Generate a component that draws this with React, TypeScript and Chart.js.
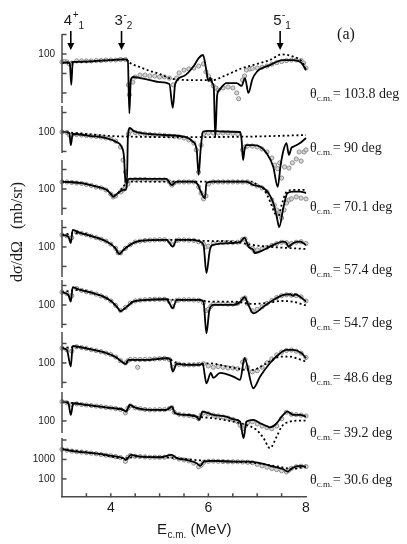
import React, { useEffect, useRef } from "react";
import { Chart, registerables } from "chart.js";

Chart.register(...registerables);

type P = [number, number][];

// ---------- categories / labels ----------
const ANGLES = ["103.8", "90", "70.1", "57.4", "54.7", "48.6", "39.2", "30.6"];
const X_TICK_LABELS = [4, 6, 8];
const X_MINOR_TICKS = [3.5, 4, 4.5, 5, 5.5, 6, 6.5, 7, 7.5];
const LEVELS = [
  { e: 3.18, j: "4", p: "+", n: "1" },
  { e: 4.22, j: "3", p: "-", n: "2" },
  { e: 7.47, j: "5", p: "-", n: "1" },
];

// ---------- per-panel log axes (mb/sr) ----------
const PANEL_LOG_MAX = [3.233, 7.239, 10.166, 13.145, 16.124, 19.103, 22.082, 25.061];
const PANEL_DECADES = 24;
const AXIS_TOP = [1060, 2170, 3090, 2440, 1930, 3920, 3090, 12800];
const AXIS_BOTTOM: (number | null)[] = [0.3, 8.3, 4.6, 2.9, 6.6, 5.2, 24, null];
const AXIS_TICKS = [
  [1000, 100, 10, 1], [1000, 100, 10], [1000, 100, 10], [1000, 100, 10],
  [1000, 100, 10], [1000, 100, 10], [1000, 100], [10000, 1000, 100],
];
const AXIS_LABELS = [[100], [100], [100], [100], [100], [100], [100], [1000, 100]];
const LABEL_OFFSETS = [40, 16, 18, 23, 18, 15, 12, 1];

// ---------- theta = 103.8 deg ----------
const FIT_103: P = [[3.00,35.5],[3.10,36.5],[3.16,33],[3.19,2.6],[3.22,38.8],[3.50,41],[4.00,49],[4.30,53],[4.35,45],[4.38,0.09],[4.41,4.6],[4.46,6.6],[4.60,5.8],[4.80,4.6],[5.00,3.6],[5.20,2.9],[5.27,0.17],[5.32,2.9],[5.50,7.4],[5.70,24],[5.80,62],[5.89,89],[5.95,19],[6.00,4.0],[6.04,6.0],[6.08,3.2],[6.11,2.0],[6.14,0.0055],[6.18,0.8],[6.22,1.4],[6.37,3.2],[6.58,3.2],[6.68,2.3],[6.75,5.8],[6.82,1.0],[6.90,5.0],[6.99,11.9],[7.26,27],[7.53,49],[7.74,49],[7.91,34],[8.00,15]];
const CALC_103: P = [[3.00,35.5],[3.50,41],[4.00,49],[4.30,53],[4.40,34],[4.60,21],[4.80,13.4],[5.00,9.4],[5.20,5.8],[5.60,4.6],[6.10,4.6],[6.30,7.0],[6.44,10],[6.70,19],[6.91,27],[7.26,49],[7.50,95],[7.74,73],[7.94,34],[8.00,15]];
const EXP_103: P = [[3.00,39],[3.05,41],[3.10,39],[3.15,31],[3.20,34],[3.30,44],[3.40,44],[3.50,44],[3.60,44],[3.70,46],[3.80,46],[3.90,49],[4.00,49],[4.10,49],[4.20,52],[4.30,52],[4.36,2.6],[4.38,0.8],[4.45,3.6],[4.50,6.6],[4.60,8.3],[4.70,8.3],[4.80,7.4],[4.90,7.4],[5.00,6.6],[5.10,6.6],[5.20,5.8],[5.28,2.6],[5.35,5.8],[5.40,10.6],[5.50,15],[5.60,17],[5.70,19],[5.80,24],[5.90,31],[5.95,12],[6.00,7.4],[6.05,4.6],[6.10,2.3],[6.15,1.8],[6.20,1.4],[6.30,1.8],[6.40,2.0],[6.50,1.8],[6.58,1.0],[6.62,0.5],[6.70,4.6],[6.74,7.4],[6.78,15],[6.85,17],[6.90,18],[7.00,19],[7.10,21],[7.20,24],[7.30,30],[7.40,36],[7.50,41],[7.60,46],[7.70,49],[7.80,49],[7.90,46],[7.95,34],[8.00,19]];

// ---------- theta = 90 deg ----------
const FIT_90: P = [[3.00,104],[3.15,89],[3.18,21],[3.22,79],[3.60,62],[3.90,49],[4.10,32],[4.22,17.5],[4.27,5.4],[4.30,0.3],[4.33,0.24],[4.35,50],[4.39,160],[4.47,113],[4.60,89],[5.10,70],[5.50,57],[5.68,32],[5.76,12],[5.80,0.62],[5.84,12],[5.89,104],[6.00,113],[6.30,106],[6.65,100],[6.68,39],[6.71,3.6],[6.74,12],[6.78,21],[6.92,21],[7.06,17.5],[7.19,8.3],[7.33,1.6],[7.42,0.15],[7.48,2.0],[7.54,12],[7.60,27],[7.65,6.6],[7.70,15],[7.74,17.5],[7.88,27],[8.00,49]];
const CALC_90: P = [[3.00,100],[3.50,79],[4.00,62],[4.50,57],[5.00,55],[6.00,55],[7.00,59],[8.00,70]];
const EXP_90: P = [[3.00,100],[3.10,94],[3.15,70],[3.20,70],[3.30,74],[3.40,70],[3.50,66],[3.60,62],[3.70,59],[3.80,55],[3.90,49],[4.00,44],[4.10,34],[4.20,17],[4.25,3.6],[4.30,0.88],[4.32,0.27],[4.36,79],[4.40,113],[4.50,94],[4.60,84],[4.70,79],[4.80,74],[4.90,70],[5.00,70],[5.10,66],[5.20,62],[5.30,59],[5.40,55],[5.50,49],[5.60,39],[5.70,27],[5.75,12],[5.80,0.88],[5.85,21],[5.90,79],[6.00,89],[6.10,89],[6.20,89],[6.30,89],[6.40,89],[6.50,84],[6.60,79],[6.70,12],[6.75,17],[6.80,19],[6.90,19],[7.00,17],[7.10,13.4],[7.20,9.4],[7.30,4.6],[7.36,2.0],[7.42,1.3],[7.46,2.6],[7.50,0.43],[7.56,1.6],[7.65,1.4],[7.72,2.6],[7.80,4.1],[7.86,9.4],[7.90,3.2],[7.96,9.4],[8.00,12]];

// ---------- theta = 70.1 deg ----------
const FIT_70: P = [[3.00,238],[3.37,203],[3.71,131],[3.92,89],[4.02,49],[4.05,39],[4.15,62],[4.26,89],[4.31,89],[4.34,267],[4.39,327],[5.14,327],[5.25,160],[5.35,238],[5.69,238],[5.79,160],[5.83,89],[5.93,34],[5.96,203],[6.10,238],[6.78,238],[6.92,160],[7.13,113],[7.23,62],[7.33,19],[7.40,3.8],[7.45,1.1],[7.54,12.3],[7.62,62],[7.74,73],[7.88,73],[8.00,62]];
const CALC_70: P = [[3.00,238],[3.37,203],[3.71,131],[3.92,89],[4.05,45],[4.15,62],[4.25,127],[4.35,229],[4.50,238],[6.90,238],[7.00,160],[7.15,89],[7.25,27],[7.35,6.6],[7.42,3.2],[7.50,15],[7.60,70],[7.75,89],[8.00,89]];
const EXP_70: P = [[3.00,229],[3.10,229],[3.20,216],[3.30,203],[3.40,192],[3.50,170],[3.60,151],[3.70,127],[3.80,113],[3.90,89],[4.00,55],[4.05,39],[4.10,44],[4.20,70],[4.25,89],[4.30,127],[4.35,181],[4.40,290],[4.50,308],[4.60,308],[4.70,308],[4.80,290],[4.90,290],[5.00,290],[5.10,290],[5.20,229],[5.25,160],[5.30,203],[5.40,229],[5.50,229],[5.60,229],[5.70,229],[5.80,127],[5.85,62],[5.90,31],[5.95,44],[6.00,181],[6.10,229],[6.20,229],[6.30,229],[6.40,229],[6.50,229],[6.60,229],[6.70,229],[6.80,229],[6.90,181],[7.00,143],[7.10,113],[7.20,70],[7.30,27],[7.35,15],[7.40,8.3],[7.45,5.2],[7.50,3.2],[7.55,8.3],[7.60,19],[7.65,27],[7.70,31],[7.80,39],[7.90,34],[8.00,31]];

// ---------- theta = 57.4 deg ----------
const FIT_57: P = [[3.00,414],[3.13,338],[3.18,160],[3.22,750],[3.37,524],[3.64,338],[3.92,187],[4.09,89],[4.17,44],[4.26,70],[4.39,127],[4.60,203],[5.14,229],[5.27,104],[5.35,229],[5.69,229],[5.83,187],[5.90,127],[5.96,4.6],[6.03,70],[6.10,127],[6.51,160],[6.65,181],[6.74,290],[6.82,104],[6.92,70],[6.95,49],[7.13,70],[7.33,127],[7.54,187],[7.60,160],[7.64,104],[7.74,160],[7.88,187],[8.00,127]];
const CALC_57: P = [[3.00,414],[3.20,500],[3.37,524],[3.64,338],[3.92,187],[4.09,89],[4.17,44],[4.26,70],[4.39,127],[4.60,203],[5.14,229],[5.50,229],[5.83,210],[6.00,203],[6.50,187],[6.90,127],[7.30,100],[7.60,89],[8.00,79]];
const EXP_57: P = [[3.00,414],[3.10,370],[3.20,300],[3.30,560],[3.40,500],[3.50,430],[3.60,360],[3.70,300],[3.80,250],[3.90,200],[4.00,140],[4.10,85],[4.15,50],[4.20,50],[4.30,85],[4.40,130],[4.50,180],[4.60,200],[4.70,215],[4.80,225],[4.90,229],[5.00,235],[5.10,235],[5.20,200],[5.27,130],[5.35,215],[5.40,229],[5.50,229],[5.60,225],[5.70,215],[5.80,185],[5.90,140],[5.95,100],[6.00,110],[6.10,150],[6.20,165],[6.30,170],[6.40,170],[6.50,170],[6.60,175],[6.70,240],[6.75,260],[6.80,140],[6.90,85],[6.95,60],[7.00,70],[7.10,80],[7.20,95],[7.30,120],[7.40,150],[7.50,175],[7.60,165],[7.65,120],[7.70,150],[7.80,175],[7.90,185],[8.00,150]];

// ---------- theta = 54.7 deg ----------
const FIT_54: P = [[3.00,450],[3.13,327],[3.18,148],[3.22,810],[3.37,590],[3.64,400],[3.85,267],[4.02,148],[4.12,82],[4.20,49],[4.33,82],[4.46,148],[4.73,181],[5.14,196],[5.27,68],[5.35,181],[5.83,181],[5.90,143],[5.96,3.5],[6.02,55],[6.10,100],[6.51,100],[6.65,143],[6.74,249],[6.82,100],[6.92,37],[7.13,82],[7.33,181],[7.54,327],[7.67,355],[7.74,290],[7.77,355],[7.88,267],[8.00,148]];
const CALC_54: P = [[3.00,450],[3.20,560],[3.37,590],[3.64,400],[3.85,267],[4.02,148],[4.12,82],[4.20,49],[4.33,82],[4.46,148],[4.73,181],[5.14,196],[5.35,181],[5.83,181],[6.00,148],[6.50,148],[6.90,113],[7.20,127],[7.50,160],[7.75,143],[8.00,94]];
const EXP_54: P = [[3.00,450],[3.10,380],[3.20,300],[3.30,700],[3.40,560],[3.50,480],[3.60,420],[3.70,360],[3.80,290],[3.90,230],[4.00,160],[4.10,95],[4.20,52],[4.30,75],[4.40,125],[4.50,160],[4.60,175],[4.70,185],[4.80,190],[4.90,195],[5.00,195],[5.10,195],[5.20,150],[5.27,80],[5.35,170],[5.40,180],[5.50,185],[5.60,185],[5.70,180],[5.80,175],[5.90,130],[5.95,50],[6.00,60],[6.05,85],[6.10,110],[6.20,115],[6.30,115],[6.40,110],[6.50,110],[6.60,120],[6.70,200],[6.75,230],[6.80,120],[6.90,50],[7.00,60],[7.10,80],[7.20,120],[7.30,170],[7.40,240],[7.50,300],[7.60,330],[7.70,320],[7.80,300],[7.90,260],[8.00,160]];

// ---------- theta = 48.6 deg ----------
const FIT_48: P = [[3.00,570],[3.10,467],[3.18,65],[3.22,750],[3.37,640],[3.64,467],[3.92,315],[4.12,187],[4.22,117],[4.31,89],[4.36,143],[4.73,143],[5.14,174],[5.21,160],[5.27,36],[5.35,89],[5.55,79],[5.83,79],[5.88,96],[5.96,9.0],[6.05,31],[6.10,17],[6.24,31],[6.51,20],[6.65,13.4],[6.74,174],[6.92,5.0],[7.06,20],[7.26,96],[7.47,315],[7.60,467],[7.74,467],[7.91,315],[8.00,174]];
const CALC_48: P = [[3.00,570],[3.20,640],[3.37,640],[3.64,467],[3.92,315],[4.12,187],[4.22,117],[4.31,89],[4.36,143],[4.73,143],[5.14,174],[5.35,100],[5.55,85],[5.83,85],[6.00,96],[6.40,65],[6.80,44],[6.92,44],[7.06,62],[7.30,143],[7.50,211],[7.65,211],[7.90,143],[8.00,117]];
const EXP_48: P = [[3.00,570],[3.10,470],[3.20,400],[3.30,680],[3.40,620],[3.50,560],[3.60,480],[3.70,430],[3.80,380],[3.90,320],[4.00,270],[4.10,200],[4.20,130],[4.30,100],[4.35,130],[4.40,150],[4.50,150],[4.55,60],[4.60,150],[4.70,150],[4.80,155],[4.90,160],[5.00,165],[5.10,170],[5.20,150],[5.27,60],[5.35,90],[5.40,85],[5.50,80],[5.60,80],[5.70,80],[5.80,85],[5.90,90],[6.00,70],[6.10,60],[6.20,65],[6.30,60],[6.40,55],[6.50,55],[6.60,50],[6.70,110],[6.75,150],[6.80,60],[6.90,35],[7.00,40],[7.10,60],[7.20,100],[7.30,160],[7.40,260],[7.50,360],[7.60,440],[7.70,460],[7.80,400],[7.90,320],[8.00,190]];

// ---------- theta = 39.2 deg ----------
const FIT_39: P = [[3.00,980],[3.13,810],[3.18,203],[3.23,810],[3.51,660],[3.78,540],[4.05,450],[4.26,370],[4.31,300],[4.39,660],[4.53,450],[4.80,370],[5.14,370],[5.25,540],[5.32,249],[5.55,203],[5.76,166],[5.81,113],[5.88,300],[6.10,203],[6.37,166],[6.51,122],[6.65,92],[6.72,13],[6.78,92],[6.92,113],[7.06,76],[7.19,55],[7.26,47],[7.40,76],[7.50,166],[7.62,300],[7.74,203],[7.88,203],[8.00,166]];
const CALC_39: P = [[3.00,980],[3.51,660],[3.78,540],[4.05,450],[4.26,370],[4.31,330],[4.39,600],[4.53,450],[4.80,370],[5.14,370],[5.25,500],[5.32,249],[5.55,203],[5.76,166],[6.10,137],[6.51,92],[6.78,62],[6.99,34],[7.13,13],[7.26,4.0],[7.40,15.6],[7.50,51],[7.67,92],[7.88,104],[8.00,104]];
const EXP_39: P = [[3.00,980],[3.10,850],[3.20,700],[3.30,750],[3.40,700],[3.50,660],[3.60,620],[3.70,580],[3.80,540],[3.90,500],[4.00,470],[4.10,430],[4.20,390],[4.30,260],[4.35,450],[4.40,600],[4.50,470],[4.60,420],[4.70,390],[4.80,370],[4.90,370],[5.00,380],[5.10,380],[5.20,430],[5.25,480],[5.30,280],[5.40,220],[5.50,200],[5.60,190],[5.70,170],[5.80,130],[5.85,200],[5.90,260],[6.00,230],[6.10,200],[6.20,180],[6.30,160],[6.40,140],[6.50,120],[6.60,90],[6.65,60],[6.70,40],[6.75,55],[6.80,80],[6.90,90],[7.00,70],[7.10,55],[7.20,45],[7.30,40],[7.40,55],[7.50,130],[7.60,280],[7.70,220],[7.80,210],[7.90,200],[8.00,180]];

// ---------- theta = 30.6 deg ----------
const FIT_30: P = [[3.00,3370],[3.30,2540],[3.64,2090],[3.98,1580],[4.26,1160],[4.31,945],[4.41,1710],[4.60,1400],[5.01,1300],[5.25,1710],[5.35,1160],[5.55,945],[5.76,640],[5.83,467],[5.91,775],[6.10,840],[6.51,775],[6.85,775],[7.13,590],[7.33,430],[7.54,315],[7.62,238],[7.71,355],[7.88,467],[8.00,430]];
const CALC_30: P = [[3.00,3370],[3.64,2090],[4.26,1160],[4.35,1150],[4.50,1400],[5.00,1300],[5.30,1200],[5.83,900],[6.10,840],[6.50,775],[7.00,640],[7.50,400],[7.70,330],[8.00,430]];
const EXP_30: P = [[3.00,3300],[3.10,3000],[3.20,2700],[3.30,2500],[3.40,2400],[3.50,2250],[3.60,2100],[3.70,1950],[3.80,1800],[3.90,1650],[4.00,1550],[4.10,1400],[4.20,1250],[4.30,800],[4.35,1300],[4.40,1600],[4.50,1450],[4.60,1400],[4.70,1350],[4.80,1300],[4.90,1300],[5.00,1280],[5.10,1300],[5.20,1500],[5.30,1250],[5.40,1050],[5.50,950],[5.60,850],[5.70,650],[5.80,420],[5.85,500],[5.90,700],[6.00,800],[6.10,820],[6.20,800],[6.30,780],[6.40,760],[6.50,760],[6.60,760],[6.70,740],[6.80,720],[6.90,680],[7.00,560],[7.10,470],[7.20,400],[7.30,340],[7.40,300],[7.50,260],[7.60,230],[7.65,280],[7.70,350],[7.80,420],[7.90,450],[8.00,430]];

const PANELS = [
  { fit: FIT_103, calc: CALC_103, exp: EXP_103 },
  { fit: FIT_90, calc: CALC_90, exp: EXP_90 },
  { fit: FIT_70, calc: CALC_70, exp: EXP_70 },
  { fit: FIT_57, calc: CALC_57, exp: EXP_57 },
  { fit: FIT_54, calc: CALC_54, exp: EXP_54 },
  { fit: FIT_48, calc: CALC_48, exp: EXP_48 },
  { fit: FIT_39, calc: CALC_39, exp: EXP_39 },
  { fit: FIT_30, calc: CALC_30, exp: EXP_30 },
];

const SERIF = "'Liberation Serif', 'Times New Roman', serif";
const SANS = "'Liberation Sans', Arial, sans-serif";
const AXIS_COLOR = "#4a4a4a";
const TEXT_COLOR = "#1a1a1a";

const toXY = (a: P) => a.map(([x, y]) => ({ x, y }));

const decor = {
  id: "decor",
  afterDraw(chart: any) {
    const { ctx, chartArea } = chart;
    const { left, bottom } = chartArea;
    const xs = chart.scales.x;
    ctx.save();
    ctx.strokeStyle = AXIS_COLOR;
    ctx.lineWidth = 1.5;

    // y-axis segments per panel
    for (let i = 0; i < PANEL_LOG_MAX.length; i++) {
      const sc = chart.scales["y" + i];
      const yt = sc.getPixelForValue(AXIS_TOP[i]);
      const yb = AXIS_BOTTOM[i] == null ? bottom : sc.getPixelForValue(AXIS_BOTTOM[i]);
      ctx.strokeStyle = AXIS_COLOR;
      ctx.beginPath();
      ctx.moveTo(left, yt);
      ctx.lineTo(left, yb);
      ctx.stroke();
      for (const v of AXIS_TICKS[i]) {
        const y = sc.getPixelForValue(v);
        ctx.beginPath();
        ctx.moveTo(left, y);
        ctx.lineTo(left + 4.5, y);
        ctx.stroke();
      }
      ctx.fillStyle = TEXT_COLOR;
      ctx.font = `10px ${SANS}`;
      ctx.textAlign = "right";
      ctx.textBaseline = "middle";
      for (const v of AXIS_LABELS[i]) ctx.fillText(String(v), left - 7, sc.getPixelForValue(v));

      // angle label
      const ly = sc.getPixelForValue(100) + LABEL_OFFSETS[i];
      let lx = 310;
      ctx.textAlign = "left";
      ctx.font = `14px ${SERIF}`;
      ctx.fillText("\u03b8", lx, ly);
      lx += ctx.measureText("\u03b8").width;
      ctx.font = `9px ${SERIF}`;
      ctx.fillText("c.m.", lx, ly + 4.5);
      lx += ctx.measureText("c.m.").width + 0.5;
      ctx.font = `14px ${SERIF}`;
      ctx.fillText(`= ${ANGLES[i]} deg`, lx, ly);
    }

    // inward x ticks
    ctx.strokeStyle = AXIS_COLOR;
    for (const v of X_MINOR_TICKS) {
      const x = xs.getPixelForValue(v);
      ctx.beginPath();
      ctx.moveTo(x, bottom);
      ctx.lineTo(x, bottom - 4);
      ctx.stroke();
    }

    // level arrows
    ctx.strokeStyle = "#000";
    ctx.fillStyle = "#000";
    ctx.lineWidth = 1.6;
    for (const L of LEVELS) {
      const x = xs.getPixelForValue(L.e);
      ctx.beginPath();
      ctx.moveTo(x, 31);
      ctx.lineTo(x, 44);
      ctx.stroke();
      ctx.beginPath();
      ctx.moveTo(x - 3.5, 43);
      ctx.lineTo(x + 3.5, 43);
      ctx.lineTo(x, 50);
      ctx.closePath();
      ctx.fill();
      ctx.fillStyle = TEXT_COLOR;
      ctx.textAlign = "left";
      ctx.textBaseline = "middle";
      let tx = x - 7;
      ctx.font = `15px ${SANS}`;
      ctx.fillText(L.j, tx, 21);
      tx += ctx.measureText(L.j).width + 0.5;
      ctx.font = `10px ${SANS}`;
      ctx.fillText(L.p, tx, 15);
      tx += ctx.measureText(L.p).width;
      ctx.fillText(L.n, tx, 26);
      ctx.fillStyle = "#000";
    }

    // (a)
    ctx.fillStyle = TEXT_COLOR;
    ctx.font = `16px ${SERIF}`;
    ctx.textAlign = "center";
    ctx.fillText("(a)", 346, 35);

    // x title
    ctx.textAlign = "left";
    let tx = 157;
    ctx.font = `15px ${SANS}`;
    ctx.fillText("E", tx, 530);
    tx += ctx.measureText("E").width + 0.5;
    ctx.font = `10px ${SANS}`;
    ctx.fillText("c.m.", tx, 535);
    tx += ctx.measureText("c.m.").width;
    ctx.font = `15px ${SANS}`;
    ctx.fillText(" (MeV)", tx, 530);

    // y title
    ctx.save();
    ctx.translate(18, 232);
    ctx.rotate(-Math.PI / 2);
    ctx.textAlign = "center";
    ctx.font = `16px ${SERIF}`;
    ctx.fillText("d\u03c3/d\u03a9   (mb/sr)", 0, 0);
    ctx.restore();

    ctx.restore();
  },
};

export default function App() {
  const ref = useRef<HTMLCanvasElement>(null);
  useEffect(() => {
    const scales: any = {
      x: {
        type: "linear",
        min: 3,
        max: 8,
        afterBuildTicks: (s: any) => {
          s.ticks = X_TICK_LABELS.map((v) => ({ value: v }));
        },
        ticks: { color: TEXT_COLOR, font: { family: SANS, size: 14 }, padding: 3 },
        grid: { drawOnChartArea: false, drawTicks: false },
        border: { color: AXIS_COLOR, width: 1.5 },
      },
    };
    PANEL_LOG_MAX.forEach((m, i) => {
      scales["y" + i] = {
        type: "logarithmic",
        display: false,
        min: Math.pow(10, m - PANEL_DECADES),
        max: Math.pow(10, m),
      };
    });
    const datasets: any[] = [];
    PANELS.forEach((p, i) => {
      datasets.push({
        data: toXY(p.exp),
        yAxisID: "y" + i,
        showLine: false,
        pointRadius: 2.1,
        pointBorderWidth: 1,
        pointBorderColor: "#8e8e8e",
        pointBackgroundColor: "rgba(210,210,210,0.9)",
        order: 3,
        clip: false,
      });
      datasets.push({
        data: toXY(p.calc),
        yAxisID: "y" + i,
        borderColor: "#000",
        borderWidth: 1.8,
        borderDash: [2, 2.6],
        pointRadius: 0,
        cubicInterpolationMode: "monotone",
        fill: false,
        order: 2,
        clip: false,
      });
      datasets.push({
        data: toXY(p.fit),
        yAxisID: "y" + i,
        borderColor: "#000",
        borderWidth: 1.8,
        pointRadius: 0,
        cubicInterpolationMode: "monotone",
        fill: false,
        order: 1,
        clip: false,
      });
    });
    const chart = new Chart(ref.current as HTMLCanvasElement, {
      type: "line",
      data: { datasets },
      options: {
        animation: false,
        responsive: false,
        maintainAspectRatio: false,
        devicePixelRatio: 1,
        events: [],
        layout: { padding: { left: 62, right: 101, top: 30, bottom: 24 } },
        plugins: { legend: { display: false }, tooltip: { enabled: false } },
        scales,
      },
      plugins: [decor],
    } as any);
    return () => chart.destroy();
  }, []);
  return (
    <div style={{ position: "fixed", left: 0, top: 0, width: 407, height: 544, background: "#fff" }}>
      <canvas ref={ref} width={407} height={544} style={{ display: "block", width: 407, height: 544 }} />
    </div>
  );
}
